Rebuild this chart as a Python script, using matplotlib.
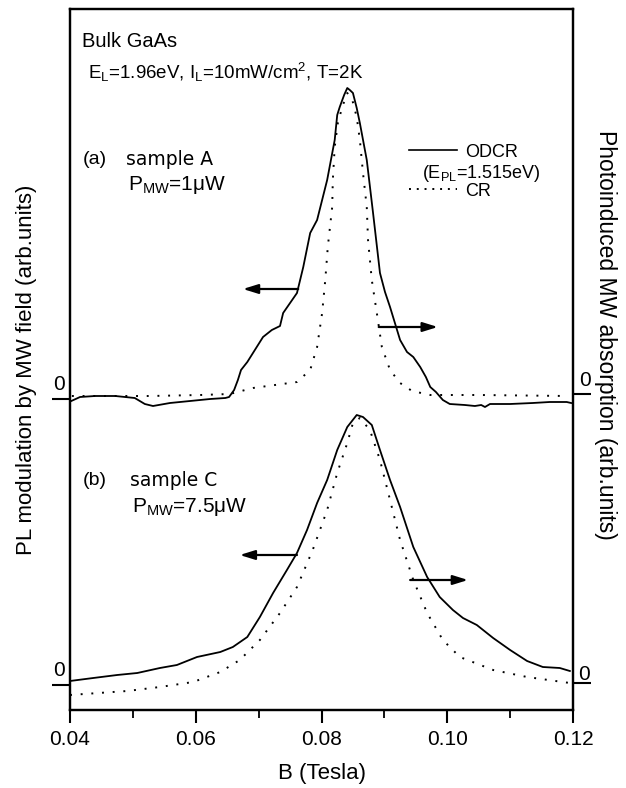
import matplotlib
matplotlib.use("Agg")
import matplotlib.pyplot as plt
from matplotlib.ticker import MultipleLocator
from matplotlib.transforms import blended_transform_factory
from matplotlib.lines import Line2D

plt.rcParams['font.family'] = ['Liberation Sans', 'DejaVu Sans']
plt.rcParams['mathtext.fontset'] = 'custom'
plt.rcParams['mathtext.rm'] = 'Liberation Sans'
plt.rcParams['mathtext.it'] = 'Liberation Sans'

# ---- data (arb. units relative to each trace's own zero) ----
B_a_odcr = [0.0402, 0.0416, 0.0440, 0.0472, 0.0503, 0.0519, 0.0532, 0.0559, 0.0591, 0.0623,
            0.0647, 0.0653, 0.0661, 0.0667, 0.0672, 0.0682, 0.0694, 0.0707, 0.0721, 0.0734,
            0.0739, 0.0750, 0.0761, 0.0771, 0.0782, 0.0793, 0.0809, 0.0821, 0.0825, 0.0829,
            0.0836, 0.0841, 0.0845, 0.0850, 0.0856, 0.0861, 0.0872, 0.0882, 0.0893, 0.0901,
            0.0909, 0.0925, 0.0936, 0.0946, 0.0957, 0.0966, 0.0973, 0.0982, 0.0993, 0.1004,
            0.1028, 0.1044, 0.1054, 0.1060, 0.1068, 0.1100, 0.1136, 0.1163, 0.1190, 0.1197]
S_a_odcr = [-2, 2, 3, 3, 1, -5, -7, -4, -2, 0,
            1, 2, 9, 19, 29, 37, 49, 62, 69, 73,
            86, 96, 106, 132, 166, 179, 219, 259, 284, 292,
            304, 311, 309, 306, 291, 276, 239, 186, 126, 107,
            92, 59, 47, 42, 32, 22, 12, 7, -1, -5,
            -6, -7, -6, -8, -5, -5, -4, -3, -3, -4]

B_a_cr = [0.0403, 0.0464, 0.0527, 0.0607, 0.0654, 0.0691, 0.0726, 0.0761, 0.0782, 0.0793,
          0.0801, 0.0806, 0.0810, 0.0817, 0.0818, 0.0821, 0.0826, 0.0833, 0.0841, 0.0849,
          0.0856, 0.0861, 0.0866, 0.0872, 0.0874, 0.0880, 0.0888, 0.0896, 0.0909, 0.0925,
          0.0944, 0.0973, 0.1052, 0.1190]
S_a_cr = [-2, -2, -2, -1, 0, 6, 9, 12, 24, 47,
          81, 114, 147, 187, 214, 247, 271, 287, 301, 294,
          277, 254, 221, 187, 154, 114, 81, 47, 24, 11,
          3, -1, -1, -2]

B_b_odcr = [0.0400, 0.0437, 0.0475, 0.0507, 0.0543, 0.0570, 0.0602, 0.0639, 0.0659, 0.0682,
            0.0702, 0.0723, 0.0745, 0.0761, 0.0777, 0.0793, 0.0809, 0.0825, 0.0841, 0.0856,
            0.0866, 0.0880, 0.0893, 0.0909, 0.0925, 0.0946, 0.0968, 0.0988, 0.1009, 0.1025,
            0.1047, 0.1073, 0.1100, 0.1127, 0.1152, 0.1179, 0.1195]
S_b_odcr = [4, 7, 10, 12, 17, 20, 28, 33, 38, 48,
            68, 92, 115, 132, 155, 182, 205, 235, 258, 270,
            268, 260, 235, 205, 178, 138, 108, 88, 75, 67,
            60, 47, 35, 24, 18, 17, 14]

B_b_cr = [0.0400, 0.0491, 0.0543, 0.0596, 0.0639, 0.0670, 0.0702, 0.0734, 0.0761, 0.0786,
          0.0809, 0.0825, 0.0841, 0.0850, 0.0861, 0.0877, 0.0893, 0.0909, 0.0925, 0.0946,
          0.0968, 0.0993, 0.1020, 0.1073, 0.1127, 0.1195]
S_b_cr = [-12, -8, -4, 1, 11, 23, 43, 70, 96, 133,
          173, 210, 240, 260, 265, 253, 223, 183, 143, 103,
          70, 43, 26, 13, 6, 0]

# vertical offsets of the two panels (same arbitrary units)
zero_a_left, zero_b_left = 311, 25
zero_a_right, zero_b_right = 316, 27
y_top = 701

x_ticks = [0.04, 0.06, 0.08, 0.10, 0.12]
x_ticklabels = ["0.04", "0.06", "0.08", "0.10", "0.12"]

# ---- figure ----
fig = plt.figure(figsize=(6.26, 7.88), dpi=100)
ax = fig.add_axes([70/626, 78/788, 503/626, 701/788])
ax2 = ax.twinx()

lw = 1.3
ax.plot(B_a_odcr, [zero_a_left + v for v in S_a_odcr], color='black', lw=lw)
ax.plot(B_b_odcr, [zero_b_left + v for v in S_b_odcr], color='black', lw=lw)
ax2.plot(B_a_cr, [zero_a_right + v for v in S_a_cr], color='black', lw=1.4,
         linestyle=(0, (1, 4.5)))
ax2.plot(B_b_cr, [zero_b_right + v for v in S_b_cr], color='black', lw=1.4,
         linestyle=(0, (1, 4.5)))

for a in (ax, ax2):
    a.set_xlim(0.04, 0.12)
    a.set_ylim(0, y_top)
    for s in a.spines.values():
        s.set_linewidth(1.6)

ax.set_xticks(x_ticks)
ax.set_xticklabels(x_ticklabels)
ax.xaxis.set_minor_locator(MultipleLocator(0.01))
ax.tick_params(axis='x', which='major', direction='out', length=9, width=1.5,
               labelsize=15, pad=5.5)
ax.tick_params(axis='x', which='minor', direction='out', length=6, width=1.3)
ax.set_xlabel("B (Tesla)", fontsize=16, labelpad=10)

ax.set_yticks([zero_b_left, zero_a_left])
ax.set_yticklabels([])
ax.tick_params(axis='y', direction='out', length=13, width=1.5)
ax2.set_yticks([zero_b_right, zero_a_right])
ax2.set_yticklabels([])
ax2.tick_params(axis='y', direction='out', length=13, width=1.5)

# "0" labels sitting above the zero ticks
tl = blended_transform_factory(ax.transAxes, ax.transData)
ax.text(-0.022, zero_a_left + 5, "0", transform=tl, ha='center', va='bottom', fontsize=15)
ax.text(-0.022, zero_b_left + 5, "0", transform=tl, ha='center', va='bottom', fontsize=15)
ax.text(1.024, zero_a_right + 4, "0", transform=tl, ha='center', va='bottom', fontsize=15)
ax.text(1.022, zero_b_right - 1, "0", transform=tl, ha='center', va='bottom', fontsize=15)

ax.set_ylabel("PL modulation by MW field (arb.units)", fontsize=16)
ax2.set_ylabel("Photoinduced MW absorption (arb.units)", fontsize=16.5, rotation=-90)
ax.yaxis.set_label_coords(-0.066, 0.485)
ax2.yaxis.set_label_coords(1.088, 0.535)

# texts
ax.text(0.024, 0.953, "Bulk GaAs", transform=ax.transAxes, fontsize=14.5, va='center')
ax.text(0.036, 0.909, r"E$_{\rm L}$=1.96eV, I$_{\rm L}$=10mW/cm$^{2}$, T=2K",
        transform=ax.transAxes, fontsize=13.5, va='center')
ax.text(0.026, 0.785, "(a)", transform=ax.transAxes, fontsize=14, va='center')
ax.text(0.111, 0.785, "sample A", transform=ax.transAxes, fontsize=13.5, va='center',
        family='DejaVu Sans')
ax.text(0.115, 0.749, r"P$_{\rm MW}$=1$\mu$W", transform=ax.transAxes, fontsize=15,
        va='center')
ax.text(0.026, 0.327, "(b)", transform=ax.transAxes, fontsize=14, va='center')
ax.text(0.119, 0.327, "sample C", transform=ax.transAxes, fontsize=13.5, va='center',
        family='DejaVu Sans')
ax.text(0.123, 0.290, r"P$_{\rm MW}$=7.5$\mu$W", transform=ax.transAxes, fontsize=15,
        va='center')

# legend
handles = [Line2D([], [], color='black', lw=1.2),
           Line2D([], [], color='black', lw=1.4, linestyle=(0, (1, 3)))]
leg = ax.legend(handles, ["ODCR", "CR"], loc='upper left',
                bbox_to_anchor=(0.674, 0.808), frameon=False, fontsize=13,
                handlelength=2.66, handletextpad=0.44, labelspacing=1.22,
                borderpad=0, borderaxespad=0)
ax.text(0.700, 0.766, r"(E$_{\rm PL}$=1.515eV)", transform=ax.transAxes,
        fontsize=13, va='center')

# arrows
ap = dict(arrowstyle='-|>,head_length=0.9,head_width=0.28', color='black', lw=1.6,
          shrinkA=0, shrinkB=0)
ax.annotate("", xy=(0.0675, 421), xytext=(0.0763, 421), arrowprops=ap)
ax.annotate("", xy=(0.0985, 383), xytext=(0.0891, 383), arrowprops=ap)
ax.annotate("", xy=(0.0670, 155), xytext=(0.0761, 155), arrowprops=ap)
ax.annotate("", xy=(0.1033, 130), xytext=(0.0941, 130), arrowprops=ap)

fig.savefig("out.png", dpi=100)
